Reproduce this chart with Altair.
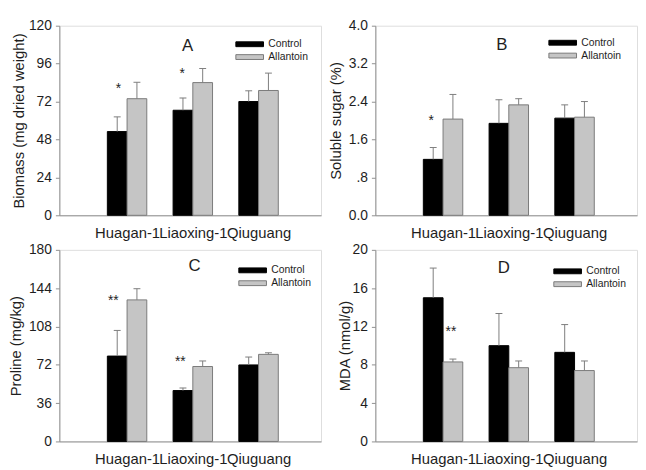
import json
import altair as alt
import pandas as pd

# ---------------- data ----------------
groups = ["Huagan-1", "Liaoxing-1", "Qiuguang"]
treatments = ["Control", "Allantoin"]

biomass_control = [53.0, 66.5, 72.0]
biomass_control_err = [9.3, 7.8, 6.8]
biomass_allantoin = [73.8, 84.0, 79.0]
biomass_allantoin_err = [10.4, 8.9, 11.0]

sugar_control = [1.18, 1.94, 2.05]
sugar_control_err = [0.25, 0.50, 0.28]
sugar_allantoin = [2.03, 2.33, 2.07]
sugar_allantoin_err = [0.52, 0.13, 0.33]

proline_control = [80.2, 47.8, 71.9]
proline_control_err = [24.1, 2.5, 7.4]
proline_allantoin = [133.0, 70.4, 81.8]
proline_allantoin_err = [10.5, 5.2, 1.5]

mda_control = [15.0, 10.0, 9.3]
mda_control_err = [3.1, 3.35, 2.9]
mda_allantoin = [8.3, 7.7, 7.4]
mda_allantoin_err = [0.3, 0.7, 1.0]

biomass_ticks = [0, 24, 48, 72, 96, 120]
biomass_tick_labels = ["0", "24", "48", "72", "96", "120"]
sugar_ticks = [0, 0.8, 1.6, 2.4, 3.2, 4.0]
sugar_tick_labels = ["0.0", ".8", "1.6", "2.4", "3.2", "4.0"]
proline_ticks = [0, 36, 72, 108, 144, 180]
proline_tick_labels = ["0", "36", "72", "108", "144", "180"]
mda_ticks = [0, 4, 8, 12, 16, 20]
mda_tick_labels = ["0", "4", "8", "12", "16", "20"]

# significance marks (position in group units, value, text)
biomass_star_x = [0.87, 1.84]
biomass_star_y = [82.0, 91.3]
biomass_star_t = ["*", "*"]
sugar_star_x = [0.82]
sugar_star_y = [2.06]
sugar_star_t = ["*"]
proline_star_x = [0.79, 1.81]
proline_star_y = [134.5, 77.0]
proline_star_t = ["**", "**"]
mda_star_x = [1.12]
mda_star_y = [11.7]
mda_star_t = ["**"]

# ---------------- style ----------------
FONT = "Liberation Sans"
FRAME = "#8f8f8f"
TEXT = "#1e1e1e"
BAR_W = 0.3
XDOM = [-0.03, 3.95]
PW = 265


def panel(letter, ytitle, ctrl, ctrl_err, allan, allan_err, ymax, ticks,
          tick_labels, star_x, star_y, star_t, title_x, letter_xy, legend_xy,
          height):
    rows = []
    for i, g in enumerate(groups):
        pos = i + 1
        rows.append(dict(group=g, treatment="Control", value=ctrl[i],
                         err=ctrl_err[i], x0=pos - BAR_W, x1=pos,
                         xc=pos - BAR_W / 2))
        rows.append(dict(group=g, treatment="Allantoin", value=allan[i],
                         err=allan_err[i], x0=pos, x1=pos + BAR_W,
                         xc=pos + BAR_W / 2))
    df = pd.DataFrame(rows)
    df["base"] = 0.0
    df["upper"] = df["value"] + df["err"]

    xs = alt.Scale(domain=XDOM, nice=False, zero=False)
    ys = alt.Scale(domain=[0, ymax], nice=False, zero=True)
    xaxis = alt.Axis(
        values=[1, 2, 3],
        labelExpr=json.dumps(groups) + "[datum.value - 1]",
        ticks=False, grid=False, title=None, domainColor=FRAME,
        labelFontSize=15, labelPadding=10, labelFont=FONT, labelColor=TEXT,
        labelOverlap=False, labelFlush=False, labelBound=False,
    )
    yaxis = alt.Axis(
        values=ticks,
        labelExpr=json.dumps(tick_labels) + "[indexof(" + json.dumps(ticks) + ", datum.value)]",
        grid=False, title=ytitle, titleFont=FONT, titleFontSize=15,
        titleFontWeight="normal", titleColor=TEXT, titleX=title_x,
        titleBaseline="middle", titleAngle=-90,
        tickSize=4, tickColor=FRAME, domainColor=FRAME,
        labelFontSize=14, labelFont=FONT, labelColor=TEXT, labelPadding=4,
        labelOverlap=False, labelFlush=False,
    )

    base = alt.Chart(df)
    bars = base.mark_rect(strokeWidth=1).encode(
        x=alt.X("x0:Q", scale=xs, axis=xaxis),
        x2="x1:Q",
        y=alt.Y("value:Q", scale=ys, axis=yaxis),
        y2="base:Q",
        fill=alt.Fill(
            "treatment:N",
            scale=alt.Scale(domain=treatments, range=["#000000", "#c5c5c5"]),
            legend=alt.Legend(
                orient="none", legendX=legend_xy[0], legendY=legend_xy[1],
                title=None, symbolType="M-4,-0.7H4V0.7H-4Z", symbolSize=49,
                symbolStrokeColor="#7a7a7a", symbolStrokeWidth=1,
                labelOffset=13.5, labelFontSize=10.5, labelFont=FONT,
                labelColor=TEXT, rowPadding=2, padding=0,
            ),
        ),
        stroke=alt.Stroke(
            "treatment:N",
            scale=alt.Scale(domain=treatments, range=["#000000", "#7a7a7a"]),
            legend=None,
        ),
    )
    errs = base.mark_rule(color="#7d7d7d", strokeWidth=1).encode(
        x=alt.X("xc:Q", scale=xs, axis=xaxis),
        y=alt.Y("value:Q", scale=ys, axis=yaxis),
        y2="upper:Q",
    )
    caps = base.mark_tick(orient="horizontal", size=7, thickness=1,
                          color="#7d7d7d", opacity=1).encode(
        x=alt.X("xc:Q", scale=xs, axis=xaxis),
        y=alt.Y("upper:Q", scale=ys, axis=yaxis),
    )
    sdf = pd.DataFrame({"sx": star_x, "sy": star_y, "st": star_t})
    stars = alt.Chart(sdf).mark_text(fontSize=14, font=FONT, color=TEXT,
                                     baseline="middle", dy=3).encode(
        x=alt.X("sx:Q", scale=xs, axis=xaxis),
        y=alt.Y("sy:Q", scale=ys, axis=yaxis),
        text="st:N",
    )
    ldf = pd.DataFrame({"t": [letter]})
    lab = alt.Chart(ldf).mark_text(fontSize=17, font=FONT, color=TEXT,
                                   baseline="middle", align="center").encode(
        text="t:N", x=alt.value(letter_xy[0]), y=alt.value(letter_xy[1]),
    )
    return alt.layer(bars, errs, caps, stars, lab).properties(
        width=PW, height=height)


pA = panel("A", "Biomass (mg dried weight)", biomass_control,
           biomass_control_err, biomass_allantoin, biomass_allantoin_err,
           120, biomass_ticks, biomass_tick_labels, biomass_star_x,
           biomass_star_y, biomass_star_t, -41, (130, 21), (187.5, 13.5), 192)
pB = panel("B", "Soluble sugar (%)", sugar_control, sugar_control_err,
           sugar_allantoin, sugar_allantoin_err, 4.0, sugar_ticks,
           sugar_tick_labels, sugar_star_x, sugar_star_y, sugar_star_t,
           -40, (128, 20), (184.5, 12), 192)
pC = panel("C", "Proline (mg/kg)", proline_control, proline_control_err,
           proline_allantoin, proline_allantoin_err, 180, proline_ticks,
           proline_tick_labels, proline_star_x, proline_star_y,
           proline_star_t, -44, (137, 16), (190.5, 15.5), 194)
pD = panel("D", "MDA (nmol/g)", mda_control, mda_control_err, mda_allantoin,
           mda_allantoin_err, 20, mda_ticks, mda_tick_labels, mda_star_x,
           mda_star_y, mda_star_t, -31, (130, 18), (189.5, 16.5), 194)

chart = alt.concat(pA, pB, pC, pD, columns=2,
                   spacing={"row": 1, "column": 6}).resolve_scale(
    x="independent", y="independent", fill="independent",
    stroke="independent").resolve_legend(
    fill="independent", stroke="independent").properties(
    padding={"left": 0, "top": 7, "right": 0, "bottom": 0},
    background="white",
).configure_view(stroke=FRAME, strokeWidth=1).configure(font=FONT)

chart.save("out.html", embed_options={"renderer": "svg", "actions": False})
